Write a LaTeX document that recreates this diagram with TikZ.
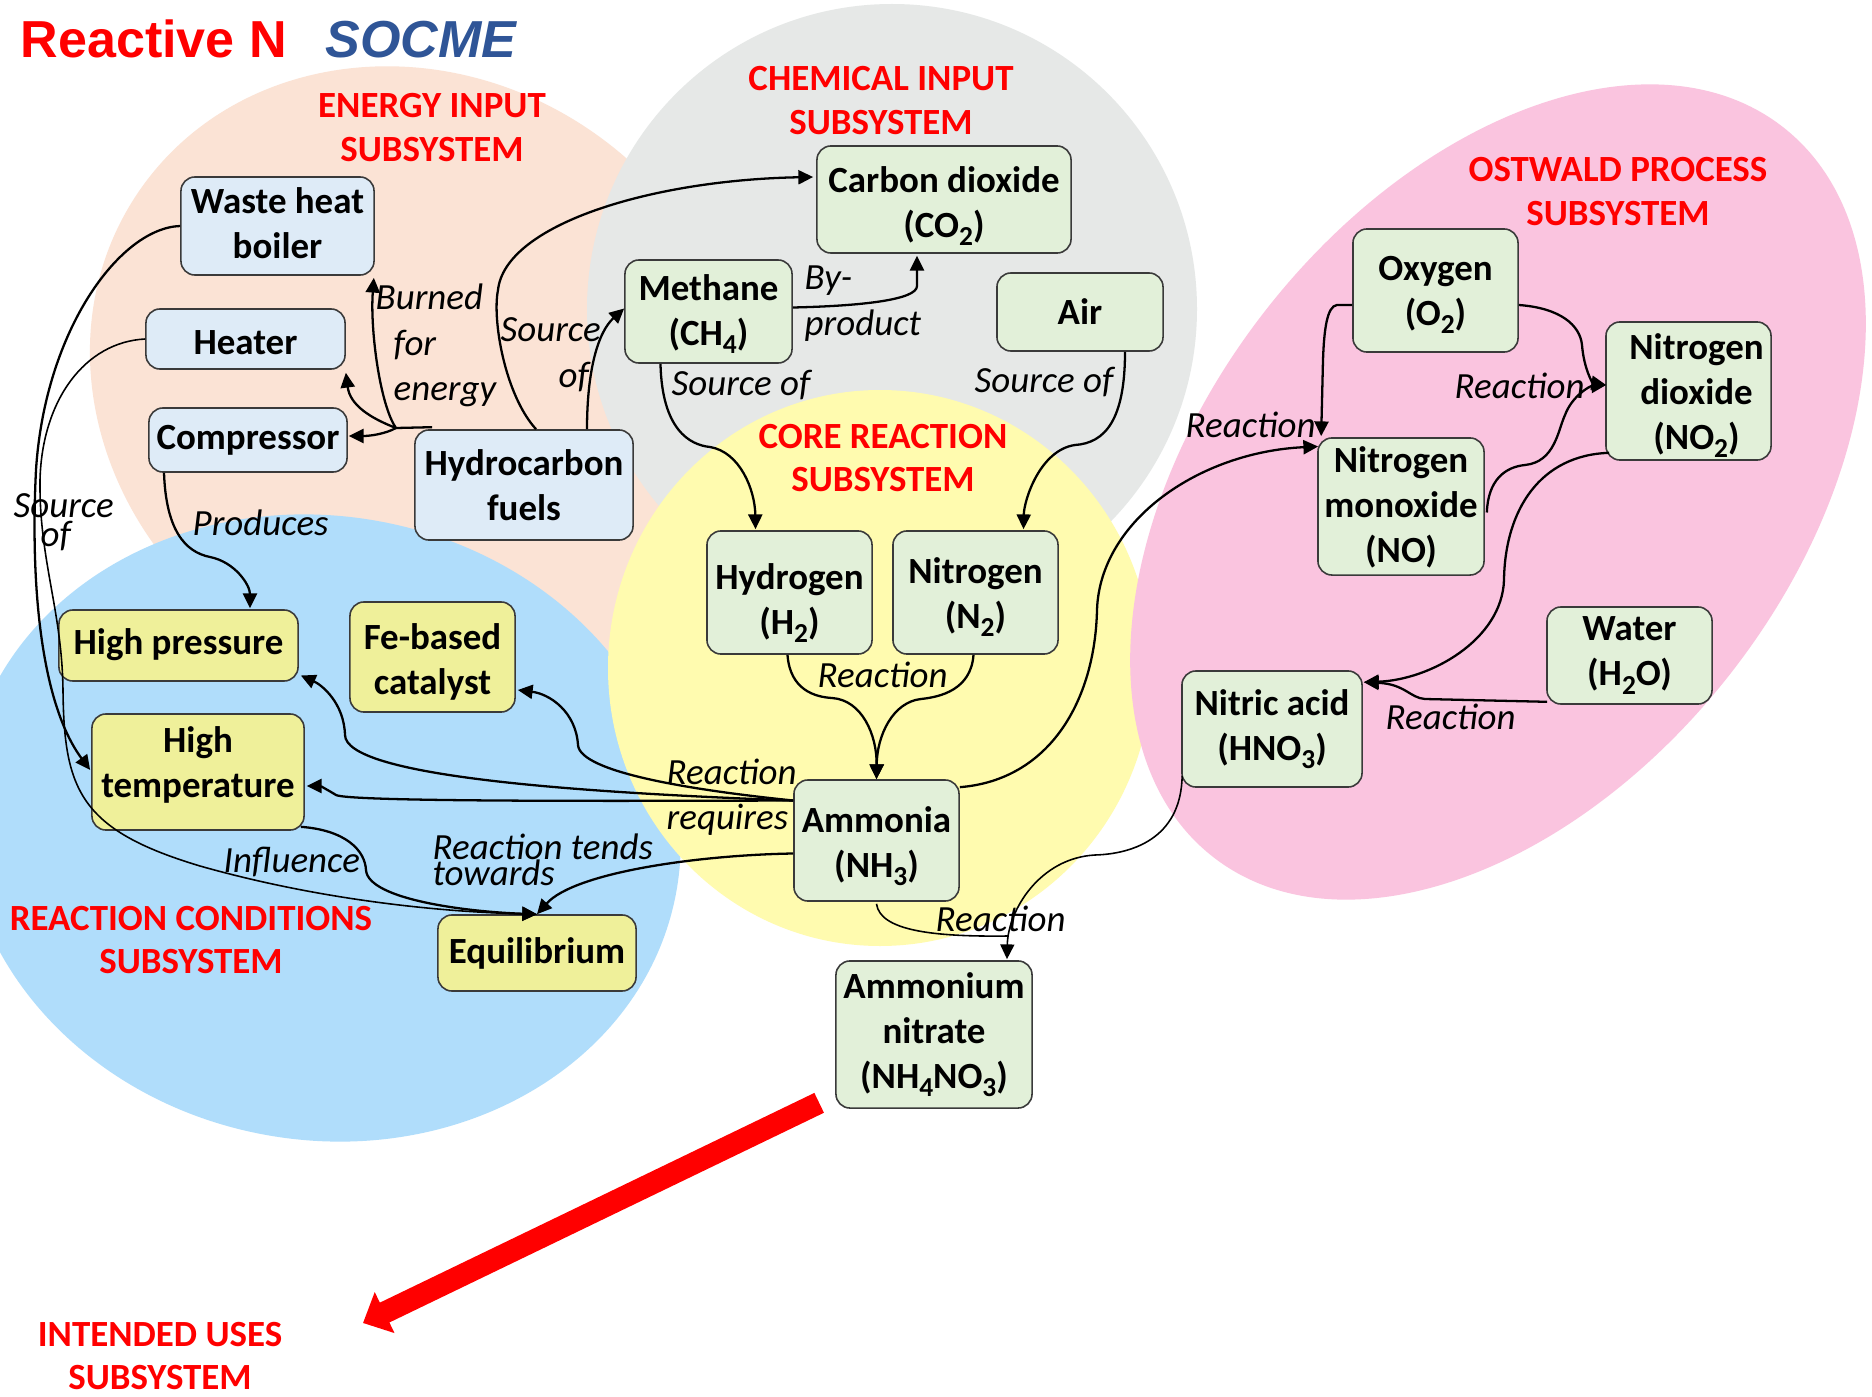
\documentclass[tikz,border=0pt]{standalone}
\usepackage{fontspec}
\setmainfont{Carlito}
\newfontfamily\headfont{Liberation Sans}
\usetikzlibrary{arrows.meta,calc}

% background blobs
\definecolor{peachbg}{HTML}{FBE3D5}
\definecolor{graybg}{HTML}{E6E8E7}
\definecolor{yellowbg}{HTML}{FFFBAF}
\definecolor{pinkbg}{HTML}{FAC4DF}
\definecolor{bluebg}{HTML}{B0DDFB}
% boxes and text
\definecolor{energyfill}{HTML}{DEEBF7}
\definecolor{chemfill}{HTML}{E2F0D9}
\definecolor{condfill}{HTML}{EFF09A}
\definecolor{boxline}{HTML}{3A3A3A}
\definecolor{socmeblue}{HTML}{2F5597}
\definecolor{labelred}{HTML}{FF0000}

% chemical subscripts
\newcommand{\chsub}[1]{\raisebox{-2.3pt}{\fontsize{7.8pt}{7.8pt}\selectfont #1}}
\newcommand{\mlines}[2]{\begin{tabular}[t]{@{}#1@{}}#2\end{tabular}}
% taller first line, to set a box text a little lower
\newcommand{\tall}[1]{\rule{0pt}{#1}}

\begin{document}
\begin{tikzpicture}[x=0.01cm, y=-0.01cm,
  box/.style={draw=boxline, line width=0.45pt, rounded corners=4pt, align=center,
    inner sep=0pt, font=\fontsize{10.5pt}{12.8pt}\selectfont\bfseries},
  sz/.style 2 args={minimum width=#1cm, minimum height=#2cm},
  % taller first line / deeper last line to set the text a little lower / higher
  tdown/.style={execute at begin node={\rule{0pt}{#1}}},
  tup/.style={execute at end node={\rule[-#1]{0pt}{0pt}}},
  ebox/.style={box, fill=energyfill},
  gbox/.style={box, fill=chemfill},
  cbox/.style={box, fill=condfill},
  lbl/.style={inner sep=0pt, anchor=base west, font=\fontsize{10.5pt}{12.8pt}\selectfont\itshape},
  subsys/.style={inner sep=0pt, anchor=base, text=labelred,
    font=\fontsize{10.5pt}{12.4pt}\selectfont\bfseries},
  conn/.style={line width=0.65pt, black},
  arr/.style={conn, -{Triangle[length=4.2pt, width=4pt]}},
  thinline/.style={line width=0.45pt},
  bigarrow/.style={labelred, line width=0.22cm, -{Triangle[length=0.24cm, width=0.44cm]}}
]
\useasboundingbox (0,0) rectangle (1872,1397);
\fill[white] (0,0) rectangle (1872,1397);

% subsystem areas
\fill[peachbg, rotate around={-34:(418,382)}] (418,382) ellipse [x radius=338, y radius=305];
\fill[graybg] (892,309) circle [radius=305];
\fill[bluebg, rotate around={-10:(322,828)}] (322,828) ellipse [x radius=360, y radius=312];
\fill[yellowbg] (880,668) ellipse [x radius=272, y radius=278];
\fill[pinkbg, rotate around={52:(1498,492)}] (1498,492) ellipse [x radius=463, y radius=295];

% title
\node[anchor=base west, inner sep=0pt, text=labelred,
  font=\headfont\fontsize{14.8pt}{16pt}\selectfont\bfseries] (title) at (20,58) {Reactive N};
\node[anchor=base west, inner sep=0pt, text=socmeblue,
  font=\headfont\fontsize{14.8pt}{16pt}\selectfont\bfseries\itshape] (socme) at (325,58) {SOCME};

% subsystem labels
\node[subsys] (lenergy) at (432,118) {\mlines{c}{ENERGY INPUT\\SUBSYSTEM}};
\node[subsys] (lchem) at (881,91) {\mlines{c}{CHEMICAL INPUT\\SUBSYSTEM}};
\node[subsys] (lcore) at (883,448) {\mlines{c}{CORE REACTION\\SUBSYSTEM}};
\node[subsys] (lost) at (1618,182) {\mlines{c}{OSTWALD PROCESS\\SUBSYSTEM}};
\node[subsys] (lcond) at (191,930) {\mlines{c}{REACTION CONDITIONS\\SUBSYSTEM}};
\node[subsys] (uses) at (160,1346) {\mlines{c}{INTENDED USES\\SUBSYSTEM}};

% nodes
\node[ebox, sz={1.93}{0.98}, tup=1.7pt] (waste) at (277.5,226) {Waste heat\\boiler};
\node[ebox, sz={1.99}{0.60}, tdown=8.8pt] (heater) at (245.5,339) {Heater};
\node[ebox, sz={1.98}{0.64}] (comp) at (248,440) {Compressor};
\node[ebox, sz={2.18}{1.10}] (hydro) at (524,485) {Hydrocarbon\\fuels};

\node[gbox, sz={2.54}{1.07}] (co2) at (944,199.5) {\tall{11.1pt}Carbon dioxide\\(CO\chsub{2})};
\node[gbox, sz={1.67}{1.03}] (methane) at (708.5,311.5) {\tall{8.8pt}Methane\\(CH\chsub{4})};
\node[gbox, sz={1.66}{0.78}] (air) at (1080,312) {Air};

\node[gbox, sz={1.65}{1.23}] (hydrogen) at (789.5,592.5) {\tall{13.5pt}Hydrogen\\(H\chsub{2})};
\node[gbox, sz={1.65}{1.23}] (nitrogen) at (975.5,592.5) {\tall{10.2pt}Nitrogen\\(N\chsub{2})};
\node[gbox, sz={1.65}{1.21}] (ammonia) at (876.5,840.5) {\tall{10.7pt}Ammonia\\(NH\chsub{3})};
\node[gbox, sz={1.96}{1.47}] (ammnit) at (934,1034.5) {Ammonium\\nitrate\\(NH\chsub{4}NO\chsub{3})};

\node[gbox, sz={1.65}{1.23}] (oxygen) at (1435.5,290.5) {\tall{9.3pt}Oxygen\\(O\chsub{2})};
\node[gbox, sz={1.65}{1.38}] (no2) at (1688.5,391)
  {\tall{9.8pt}\hspace*{0.16cm}Nitrogen\\\hspace*{0.16cm}dioxide\\\hspace*{0.16cm}(NO\chsub{2})};
\node[gbox, sz={1.66}{1.37}] (no) at (1401,506.5) {\tall{8.1pt}Nitrogen\\monoxide\\(NO)};
\node[gbox, sz={1.65}{0.97}] (water) at (1629.5,655.5) {Water\\(H\chsub{2}O)};
\node[gbox, sz={1.80}{1.16}] (hno3) at (1272,729) {Nitric acid\\(HNO\chsub{3})};

\node[cbox, sz={2.39}{0.71}, tup=2.4pt] (hp) at (178.5,645.5) {High pressure};
\node[cbox, sz={1.65}{1.10}] (fe) at (432.5,657) {\tall{10.1pt}Fe-based\\catalyst};
\node[cbox, sz={2.12}{1.16}, tup=5.5pt] (ht) at (198,772) {High\\temperature};
\node[cbox, sz={1.98}{0.76}] (eq) at (537,953) {Equilibrium};

% energy input links
\coordinate (hj) at (396,428);
\draw[conn] ($(hydro.north west)+(18,-2)$) -- (hj);
\draw[arr] (hj) .. controls (380,405) and (370,330) .. ($(waste.south east)+(-1,2)$);
\draw[arr] (hj) .. controls (370,418) and (350,405) .. ($(heater.south east)+(0,3)$);
\draw[arr] (hj) .. controls (385,434) and (370,436) .. ($(comp.east)+(1,-4)$);
\draw[arr] ($(hydro.north)+(12,0)$) .. controls (505,395) and (492,320) .. (498,290)
  .. controls (505,225) and (650,180) .. ($(co2.west)+(-3,-22.5)$);
\draw[arr] ($(hydro.north)+(63,0)$) .. controls (587,370) and (598,332) .. ($(methane.west)+(0,-3)$);
\draw[arr] ($(comp.south)+(-84,0)$) .. controls (166,530) and (185,552) .. (210,557)
  .. controls (235,562) and (250,585) .. ($(hp.north)+(71.5,-1)$);
\draw[arr] (waste.west) .. controls (120,228) and (45,330) .. (36,470)
  .. controls (30,590) and (42,705) .. ($(ht.west)+(-1,-2)$);
\draw[arr, thinline] (heater.west) .. controls (85,342) and (42,400) .. (40,480)
  .. controls (39,560) and (62,610) .. (63,690)
  .. controls (64,790) and (80,830) .. (200,866)
  .. controls (320,900) and (440,912) .. (eq.north);

% chemical input links
\draw[arr] ($(methane.east)+(0,-4)$) .. controls (860,306) and (917,300) .. (917,286)
  -- ($(co2.south)+(-27,2)$);
\draw[arr] ($(methane.south)+(-48,0)$) .. controls (662,430) and (690,445) .. (710,447)
  .. controls (740,452) and (755,490) .. ($(hydrogen.north)+(-34,-1)$);
\draw[arr] ($(air.south)+(45,0)$) .. controls (1125,420) and (1105,443) .. (1075,445)
  .. controls (1040,450) and (1024,500) .. ($(nitrogen.north)+(48,-1)$);

% core reaction links
\draw[arr] ($(hydrogen.south)+(-2,0)$) .. controls (790,690) and (815,697) .. (832,698)
  .. controls (862,700) and (877,735) .. (ammonia.north);
\draw[arr] ($(nitrogen.south)+(-2,0)$) .. controls (971,690) and (940,697) .. (921,699)
  .. controls (893,702) and (877,735) .. (ammonia.north);

% reaction condition links
\draw[arr] ($(ammonia.west)+(0,-40)$) .. controls (690,790) and (580,772) .. (578,745)
  .. controls (576,712) and (550,694) .. ($(fe.east)+(2,33)$);
\draw[arr] ($(ammonia.west)+(0,-40)$) .. controls (560,792) and (346,775) .. (345,735)
  .. controls (344,703) and (322,685) .. ($(hp.east)+(2,30)$);
\draw[arr] ($(ammonia.west)+(0,-40)$) .. controls (620,801) and (350,802) .. (336,795)
  .. controls (328,790) and (320,786) .. ($(ht.east)+(2,14)$);
\draw[arr] ($(ammonia.west)+(0,13)$) .. controls (700,855) and (575,872) .. (eq.north);
\draw[arr] ($(ht.south east)+(-4,-4)$) .. controls (345,830) and (365,850) .. (366,870)
  .. controls (368,900) and (470,912) .. (eq.north);

% Ostwald process links
\draw[arr] ($(ammonia.north east)+(0,8)$) .. controls (1050,780) and (1095,700) .. (1097,610)
  .. controls (1100,520) and (1200,452) .. ($(no.west)+(1,-60)$);
\draw[arr] ($(oxygen.west)+(0,14.5)$) -- (1337,305) .. controls (1327,306) and (1324,330) .. (1323,360)
  -- ($(no.north west)+(4,-1)$);
\draw[arr] ($(oxygen.east)+(0,14.5)$) .. controls (1560,308) and (1580,325) .. (1582,345)
  .. controls (1584,370) and (1593,383) .. ($(no2.west)+(1,-6)$);
\draw[arr] ($(no.east)+(2,6)$) .. controls (1488,480) and (1505,467) .. (1525,465)
  .. controls (1555,462) and (1558,430) .. (1565,415)
  .. controls (1572,396) and (1590,386) .. ($(no2.west)+(1,-6)$);
\draw[arr] ($(no2.south west)+(4,-8)$) .. controls (1540,455) and (1505,510) .. (1504,580)
  .. controls (1502,640) and (1430,680) .. ($(hno3.north east)+(1,12)$);
\draw[arr] ($(water.south west)+(1,-3)$) -- (1425,699) .. controls (1410,698) and (1405,684)
  .. ($(hno3.north east)+(1,12)$);

% ammonium nitrate links
\coordinate (aj) at (1008,936);
\draw[arr, thinline] ($(hno3.south west)+(1,-12)$) .. controls (1181,840) and (1130,854) .. (1095,855)
  .. controls (1040,858) and (1008,910) .. ($(ammnit.north)+(73,-1)$);
\draw[conn, thinline] ($(ammonia.south)+(0,2)$) .. controls (880,930) and (930,937) .. (aj);

% link labels
\node[lbl] (tburn) at (375,310) {\mlines{l}{Burned\\\hspace*{0.18cm}for\\\hspace*{0.18cm}energy}};
\node[lbl] (tsrc1) at (500,342) {\mlines{l}{Source\\\hspace*{0.58cm}of}};
\node[lbl] (tbyp) at (804,290) {\mlines{l}{By-\\product}};
\node[lbl] (tsrc2) at (671,396) {Source of};
\node[lbl] (tsrc3) at (974,393) {Source of};
\node[lbl] (tsrc4) at (13,517) {\mlines{l}{Source\\[-4.5pt]\hspace*{0.27cm}of}};
\node[lbl] (tprod) at (192,535) {Produces};
\node[lbl] (treac1) at (817,687) {Reaction};
\node[lbl] (treq) at (666,784) {\mlines{l}{Reaction\\requires}};
\node[lbl] (ttends) at (432,859) {\mlines{l}{Reaction tends\\[-5.3pt]towards}};
\node[lbl] (tinfl) at (223,872) {Influence};
\node[lbl] (treac2) at (935,931) {Reaction};
\node[lbl] (treac3) at (1185,437) {Reaction};
\node[lbl] (treac4) at (1454,398) {Reaction};
\node[lbl] (treac5) at (1385,729) {Reaction};

% intended uses arrow
\coordinate (usestip) at (363,1323);
\draw[bigarrow] ($(ammnit.south west)+(-16,-6)$) -- (usestip);
\end{tikzpicture}
\end{document}
